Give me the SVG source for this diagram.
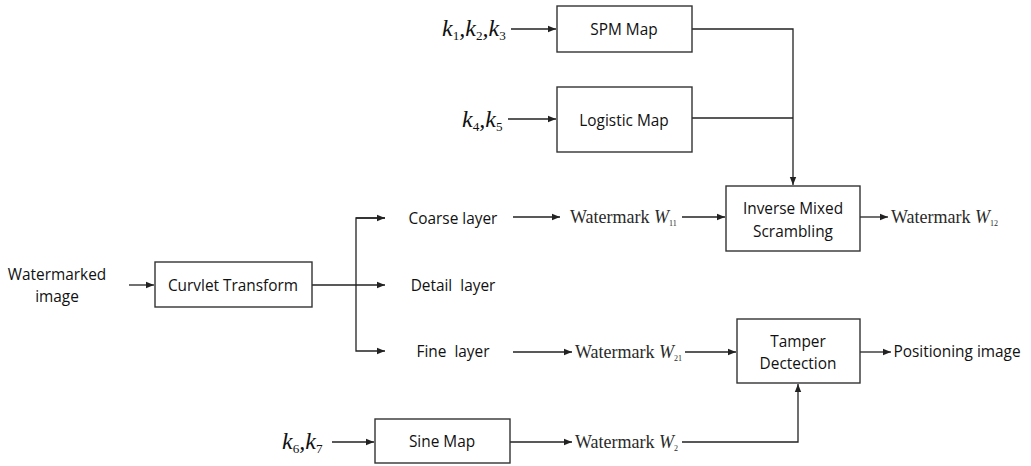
<svg xmlns="http://www.w3.org/2000/svg" width="1031" height="466" viewBox="0 0 1031 466">
  <style>
    .box { fill: #ffffff; stroke: #333333; stroke-width: 1.4; }
    .lbl { font-family: "Open Sans", "Noto Sans", "DejaVu Sans", sans-serif; font-size: 15.4px; fill: #111111; text-anchor: middle; dominant-baseline: central; }
    .ser { font-family: "Liberation Serif", "Times New Roman", serif; font-size: 18px; fill: #2a2a2a; }
    .key { font-family: "Liberation Serif", "Times New Roman", serif; font-size: 24px; fill: #111111; font-style: italic; }
    .sub { font-size: 55%; font-style: normal; }
    .ln { fill: none; stroke: #222222; stroke-width: 1.3; }
  </style>
  <defs>
    <marker id="ah" viewBox="0 0 10 10" refX="10" refY="5" markerWidth="8" markerHeight="8" markerUnits="userSpaceOnUse" orient="auto">
      <path d="M0,1 L10,5 L0,9 z" fill="#222222"/>
    </marker>
  </defs>

  <!-- connectors -->
  <g id="connectors">
    <line class="ln" x1="511" y1="29" x2="556" y2="29" marker-end="url(#ah)"/>
    <line class="ln" x1="508" y1="119" x2="556" y2="119" marker-end="url(#ah)"/>
    <polyline class="ln" points="692,29 793,29 793,185" marker-end="url(#ah)"/>
    <line class="ln" x1="692" y1="118" x2="793" y2="118"/>
    <line class="ln" x1="129" y1="285" x2="154" y2="285" marker-end="url(#ah)"/>
    <line class="ln" x1="312" y1="285" x2="385" y2="285" marker-end="url(#ah)"/>
    <polyline class="ln" points="385,218 356,218 356,351 385,351" marker-end="url(#ah)"/>
    <line class="ln" x1="356" y1="218" x2="385" y2="218" marker-end="url(#ah)"/>
    <line class="ln" x1="513" y1="217" x2="560" y2="217" marker-end="url(#ah)"/>
    <line class="ln" x1="682" y1="217" x2="725" y2="217" marker-end="url(#ah)"/>
    <line class="ln" x1="860" y1="217" x2="888" y2="217" marker-end="url(#ah)"/>
    <line class="ln" x1="513" y1="352" x2="572" y2="352" marker-end="url(#ah)"/>
    <line class="ln" x1="685" y1="352" x2="736" y2="352" marker-end="url(#ah)"/>
    <line class="ln" x1="860" y1="352" x2="891" y2="352" marker-end="url(#ah)"/>
    <line class="ln" x1="332" y1="442" x2="374" y2="442" marker-end="url(#ah)"/>
    <line class="ln" x1="510" y1="442" x2="572" y2="442" marker-end="url(#ah)"/>
    <polyline class="ln" points="682,442 798,442 798,384" marker-end="url(#ah)"/>
  </g>

  <!-- keys -->
  <g id="keys123"><text class="key" x="442" y="36">k<tspan class="sub" dy="4">1</tspan><tspan dy="-4">,k</tspan><tspan class="sub" dy="4">2</tspan><tspan dy="-4">,k</tspan><tspan class="sub" dy="4">3</tspan></text></g>
  <g id="keys45"><text class="key" x="462" y="127">k<tspan class="sub" dy="4">4</tspan><tspan dy="-4">,k</tspan><tspan class="sub" dy="4">5</tspan></text></g>
  <g id="keys67"><text class="key" x="282" y="449">k<tspan class="sub" dy="4">6</tspan><tspan dy="-4">,k</tspan><tspan class="sub" dy="4">7</tspan></text></g>

  <!-- boxes -->
  <g id="spm"><rect class="box" x="557" y="6" width="135" height="46"/><text class="lbl" x="624" y="29">SPM Map</text></g>
  <g id="logistic"><rect class="box" x="557" y="87" width="135" height="65"/><text class="lbl" x="624" y="120">Logistic Map</text></g>
  <g id="inverse"><rect class="box" x="726" y="186" width="134" height="65"/><text class="lbl" x="793" y="208">Inverse Mixed</text><text class="lbl" x="793" y="231">Scrambling</text></g>
  <g id="curvlet"><rect class="box" x="155" y="262" width="157" height="45"/><text class="lbl" x="233" y="285">Curvlet Transform</text></g>
  <g id="tamper"><rect class="box" x="737" y="319" width="123" height="64"/><text class="lbl" x="798" y="341">Tamper</text><text class="lbl" x="798" y="363">Dectection</text></g>
  <g id="sine"><rect class="box" x="375" y="419" width="135" height="44"/><text class="lbl" x="442" y="441">Sine Map</text></g>

  <!-- plain labels -->
  <g id="input"><text class="lbl" x="57" y="274">Watermarked</text><text class="lbl" x="57" y="296">image</text></g>
  <g id="coarse"><text class="lbl" x="453" y="218">Coarse layer</text></g>
  <g id="detail"><text class="lbl" x="453" y="285" xml:space="preserve">Detail  layer</text></g>
  <g id="fine"><text class="lbl" x="453" y="351" xml:space="preserve">Fine  layer</text></g>
  <g id="positioning"><text class="lbl" x="957" y="351">Positioning image</text></g>

  <!-- watermark labels -->
  <g id="w11"><text class="ser" x="570" y="223">Watermark <tspan font-style="italic">W</tspan><tspan font-size="8" dy="3">11</tspan></text></g>
  <g id="w12"><text class="ser" x="891" y="223">Watermark <tspan font-style="italic">W</tspan><tspan font-size="8" dy="3">12</tspan></text></g>
  <g id="w21"><text class="ser" x="575" y="358">Watermark <tspan font-style="italic">W</tspan><tspan font-size="8" dy="3">21</tspan></text></g>
  <g id="w2"><text class="ser" x="575" y="448">Watermark <tspan font-style="italic">W</tspan><tspan font-size="8" dy="3">2</tspan></text></g>
</svg>
